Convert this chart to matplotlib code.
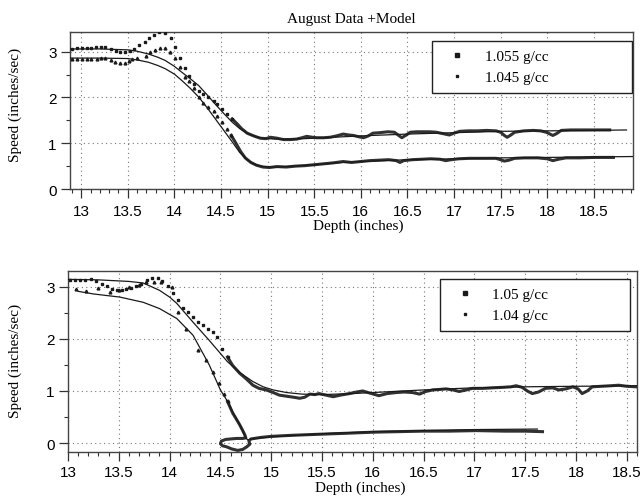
import matplotlib
matplotlib.use('Agg')
from matplotlib import pyplot as plt
from matplotlib.ticker import MultipleLocator

# ---- top panel: August data + model ----
# 1.055 g/cc, sparse points before the drop
topA_x = [12.90, 12.95, 13.01, 13.06, 13.11, 13.16, 13.21, 13.26, 13.32, 13.37, 13.42, 13.47, 13.52, 13.57, 13.62, 13.68, 13.73,
          13.78, 13.84, 13.90, 13.96, 14.01, 14.06, 14.11, 14.16, 14.21, 14.26, 14.31, 14.36, 14.42, 14.46, 14.51, 14.56, 14.62]
topA_y = [3.05, 3.07, 3.08, 3.08, 3.09, 3.10, 3.11, 3.11, 3.06, 3.02, 3.00, 3.00, 3.02, 3.06, 3.14, 3.21, 3.29,
          3.37, 3.43, 3.40, 3.29, 3.10, 2.86, 2.64, 2.46, 2.30, 2.15, 2.07, 2.01, 1.93, 1.86, 1.75, 1.64, 1.53]
# 1.055 g/cc, dense part
topA_dx = [14.62, 14.67, 14.72, 14.78, 14.85, 14.92, 14.98, 15.03, 15.10, 15.17, 15.24, 15.31, 15.37, 15.42, 15.48, 15.53, 15.60,
           15.67, 15.74, 15.81, 15.87, 15.92, 15.98, 16.03, 16.08, 16.13, 16.20, 16.29, 16.36, 16.40, 16.44, 16.48, 16.53, 16.60,
           16.68, 16.74, 16.81, 16.88, 16.95, 17.00, 17.06, 17.15, 17.25, 17.35, 17.45, 17.50, 17.54, 17.57, 17.61, 17.65, 17.75,
           17.85, 17.93, 17.99, 18.03, 18.06, 18.10, 18.15, 18.25, 18.35, 18.45, 18.55, 18.67]
topA_dy = [1.53, 1.43, 1.32, 1.22, 1.16, 1.11, 1.10, 1.13, 1.11, 1.08, 1.08, 1.09, 1.12, 1.15, 1.13, 1.12, 1.12,
           1.13, 1.16, 1.20, 1.18, 1.17, 1.14, 1.12, 1.16, 1.22, 1.23, 1.25, 1.24, 1.18, 1.12, 1.17, 1.24, 1.25,
           1.25, 1.25, 1.24, 1.21, 1.18, 1.22, 1.26, 1.27, 1.27, 1.28, 1.27, 1.24, 1.17, 1.13, 1.18, 1.24, 1.27,
           1.28, 1.27, 1.24, 1.20, 1.17, 1.21, 1.28, 1.29, 1.29, 1.29, 1.29, 1.29]
# 1.045 g/cc
topB_x = [12.90, 12.95, 13.01, 13.06, 13.11, 13.17, 13.21, 13.26, 13.32, 13.36, 13.42, 13.47, 13.51, 13.54, 13.60, 13.69, 13.74,
          13.79, 13.85, 13.90, 13.95, 14.01, 14.06, 14.11, 14.16, 14.21, 14.26, 14.31, 14.36, 14.42, 14.46, 14.51, 14.56, 14.61]
topB_y = [2.83, 2.83, 2.83, 2.83, 2.83, 2.84, 2.86, 2.86, 2.81, 2.77, 2.75, 2.75, 2.79, 2.83, 2.86, 2.90, 2.99,
          3.03, 3.08, 3.08, 2.99, 2.86, 2.66, 2.44, 2.37, 2.20, 2.01, 1.88, 1.79, 1.71, 1.59, 1.46, 1.31, 1.17]
topB_dx = [14.61, 14.66, 14.71, 14.76, 14.82, 14.88, 14.95, 15.02, 15.10, 15.20, 15.30, 15.40, 15.50, 15.60, 15.70, 15.81,
           15.90, 16.00, 16.10, 16.20, 16.30, 16.38, 16.42, 16.46, 16.55, 16.65, 16.75, 16.85, 16.91, 16.97, 17.05, 17.16,
           17.30, 17.45, 17.50, 17.54, 17.59, 17.65, 17.75, 17.90, 18.00, 18.06, 18.12, 18.20, 18.35, 18.50, 18.71]
topB_dy = [1.17, 1.00, 0.82, 0.68, 0.58, 0.52, 0.48, 0.47, 0.49, 0.48, 0.50, 0.51, 0.53, 0.55, 0.57, 0.60,
           0.58, 0.60, 0.62, 0.63, 0.64, 0.62, 0.58, 0.62, 0.64, 0.65, 0.66, 0.65, 0.62, 0.64, 0.66, 0.67,
           0.67, 0.67, 0.64, 0.61, 0.63, 0.67, 0.68, 0.68, 0.66, 0.62, 0.65, 0.68, 0.68, 0.69, 0.69]
# models
topMA_x = [12.88, 13.2, 13.5, 13.6, 13.72, 13.82, 13.9, 14.0, 14.08, 14.17, 14.26, 14.35, 14.44, 14.53, 14.62, 14.7, 14.8,
           14.9, 15.0, 15.1, 15.2, 15.4, 15.7, 16.0, 16.5, 17.0, 17.5, 18.0, 18.5, 18.85]
topMA_y = [3.06, 3.06, 3.04, 3.01, 2.95, 2.88, 2.81, 2.68, 2.55, 2.41, 2.26, 2.06, 1.85, 1.65, 1.46, 1.32, 1.20,
           1.13, 1.10, 1.09, 1.09, 1.10, 1.13, 1.16, 1.20, 1.23, 1.26, 1.27, 1.28, 1.29]
topMB_x = [12.88, 13.2, 13.5, 13.6, 13.72, 13.82, 13.9, 14.0, 14.08, 14.17, 14.26, 14.35, 14.44, 14.53, 14.62, 14.7, 14.78,
           14.85, 14.92, 15.0, 15.1, 15.2, 15.5, 15.8, 16.1, 16.5, 17.0, 17.5, 18.0, 18.5, 18.95]
topMB_y = [2.86, 2.86, 2.85, 2.82, 2.77, 2.70, 2.63, 2.51, 2.37, 2.20, 2.01, 1.78, 1.53, 1.28, 1.03, 0.80, 0.64,
           0.55, 0.50, 0.48, 0.48, 0.49, 0.53, 0.58, 0.61, 0.64, 0.66, 0.68, 0.69, 0.70, 0.71]

# ---- bottom panel ----
botA_x = [13.02, 13.07, 13.12, 13.17, 13.23, 13.28, 13.33, 13.38, 13.43, 13.48, 13.53, 13.57, 13.62, 13.67, 13.72, 13.78,
          13.83, 13.89, 13.93, 13.98, 14.03, 14.08, 14.13, 14.18, 14.23, 14.28, 14.33, 14.38, 14.43, 14.47, 14.52, 14.57]
botA_y = [3.12, 3.12, 3.12, 3.12, 3.14, 3.10, 3.05, 3.01, 2.96, 2.93, 2.93, 2.96, 2.98, 3.02, 3.05, 3.12,
          3.16, 3.16, 3.10, 3.02, 2.88, 2.74, 2.60, 2.51, 2.42, 2.32, 2.26, 2.19, 2.13, 2.04, 1.81, 1.65]
botA_dx = [14.57, 14.62, 14.69, 14.75, 14.82, 14.88, 14.95, 15.02, 15.08, 15.15, 15.22, 15.28, 15.33, 15.38, 15.43, 15.47,
           15.54, 15.61, 15.68, 15.77, 15.84, 15.90, 15.97, 16.06, 16.14, 16.23, 16.31, 16.39, 16.46, 16.52, 16.59, 16.66,
           16.72, 16.79, 16.85, 16.92, 16.98, 17.08, 17.18, 17.28, 17.36, 17.41, 17.47, 17.52, 17.57, 17.63, 17.70, 17.77,
           17.83, 17.90, 17.97, 18.02, 18.06, 18.11, 18.16, 18.25, 18.34, 18.42, 18.50, 18.59]
botA_dy = [1.65, 1.49, 1.34, 1.24, 1.11, 1.05, 1.02, 0.97, 0.92, 0.90, 0.88, 0.86, 0.88, 0.94, 0.93, 0.95,
           0.92, 0.89, 0.92, 0.95, 0.98, 1.00, 0.96, 0.91, 0.95, 0.97, 0.98, 0.97, 0.94, 0.99, 1.02, 1.03,
           1.04, 1.02, 0.99, 1.02, 1.05, 1.05, 1.06, 1.07, 1.08, 1.10, 1.07, 1.00, 0.95, 0.98, 1.05, 1.06,
           1.02, 1.04, 1.08, 1.04, 0.95, 1.00, 1.08, 1.09, 1.10, 1.11, 1.09, 1.08]
botB_x = [13.08, 13.18, 13.30, 13.41, 13.50, 13.60, 13.70, 13.77, 13.85, 13.92, 14.02, 14.08, 14.16, 14.28, 14.36, 14.43,
          14.49, 14.54, 14.57]
botB_y = [2.96, 2.92, 2.97, 2.90, 2.94, 3.00, 3.04, 3.09, 3.08, 3.09, 2.99, 2.52, 2.19, 1.78, 1.60, 1.37,
          1.15, 0.95, 0.80]
botB_dx = [14.57, 14.62, 14.66, 14.69, 14.72, 14.74, 14.75, 14.72, 14.66, 14.60, 14.55, 14.51, 14.50, 14.52, 14.56, 14.61,
           14.67, 14.72, 14.76, 14.79, 14.78, 14.80, 14.90, 15.00, 15.20, 15.47, 15.75, 16.00, 16.25, 16.49, 16.75, 17.02,
           17.30, 17.50, 17.67]
botB_dy = [0.80, 0.58, 0.45, 0.35, 0.24, 0.16, 0.10, 0.09, 0.09, 0.08, 0.07, 0.04, -0.01, -0.05, -0.07, -0.11,
           -0.14, -0.12, -0.07, -0.02, 0.04, 0.08, 0.11, 0.13, 0.15, 0.17, 0.19, 0.21, 0.22, 0.23, 0.23, 0.24,
           0.23, 0.23, 0.22]
botMA_x = [13.0, 13.3, 13.6, 13.74, 13.9, 14.0, 14.07, 14.23, 14.39, 14.57, 14.7, 14.82, 14.92, 15.02, 15.15, 15.3, 15.5,
           15.8, 16.2, 16.6, 17.0, 17.5, 18.0, 18.6]
botMA_y = [3.14, 3.13, 3.10, 3.07, 2.93, 2.80, 2.68, 2.32, 1.97, 1.56, 1.34, 1.18, 1.08, 1.02, 0.97, 0.94, 0.93,
           0.95, 0.99, 1.03, 1.06, 1.08, 1.09, 1.10]
botMB_x = [13.10, 13.25, 13.51, 13.74, 13.90, 14.07, 14.23, 14.39, 14.50, 14.57, 14.62, 14.69, 14.75, 14.77, 14.80, 14.85,
           15.0, 15.5, 16.0, 16.5, 17.0, 17.62]
botMB_y = [2.91, 2.86, 2.80, 2.70, 2.58, 2.39, 2.07, 1.50, 1.02, 0.80, 0.60, 0.36, 0.10, 0.06, 0.08, 0.09,
           0.12, 0.18, 0.22, 0.24, 0.26, 0.27]

serif = ['Liberation Serif', 'DejaVu Serif']
sans = ['Liberation Sans', 'DejaVu Sans']
ink = '#1a1a1a'

fig = plt.figure(figsize=(6.42, 5.02), dpi=100)
ax1 = fig.add_axes([70 / 642, 1 - 190 / 502, 563 / 642, 157 / 502])
ax2 = fig.add_axes([68 / 642, 1 - 453 / 502, 569 / 642, 181 / 502])


def styleAxes(ax, xlim, ylim, xpad):
    ax.set_xlim(*xlim)
    ax.set_ylim(*ylim)
    ax.xaxis.set_major_locator(MultipleLocator(0.5))
    ax.xaxis.set_minor_locator(MultipleLocator(0.1))
    ax.yaxis.set_major_locator(MultipleLocator(1))
    ax.yaxis.set_minor_locator(MultipleLocator(0.5))
    ax.xaxis.set_major_formatter(plt.FuncFormatter(lambda v, p: ('%g' % v)))
    ax.tick_params(which='major', direction='out', length=6.5, width=0.9, color='#333', labelsize=11, pad=3)
    ax.tick_params(axis='x', which='major', pad=xpad)
    ax.tick_params(which='minor', direction='out', length=3.2, width=0.8, color='#333')
    for lab in ax.get_xticklabels() + ax.get_yticklabels():
        lab.set_family(sans)
    ax.grid(True, which='major', linestyle=(0, (1, 3)), color='#777', linewidth=0.8)
    for sp in ax.spines.values():
        sp.set_color('#444')
        sp.set_linewidth(1.0)


def drawPanel(ax, sa, sb, da, db, ma, mb, labels):
    ax.plot(ma[0], ma[1], color=ink, lw=0.9, zorder=3)
    ax.plot(mb[0], mb[1], color=ink, lw=0.9, zorder=3)
    ax.plot(da[0], da[1], color=ink, lw=2.2, alpha=0.9, zorder=2)
    ax.plot(db[0], db[1], color=ink, lw=2.2, alpha=0.9, zorder=2)
    ha, = ax.plot(sa[0], sa[1], ls='none', marker='s', ms=2.0, color=ink, label=labels[0], zorder=4)
    hb, = ax.plot(sb[0], sb[1], ls='none', marker='^', ms=2.0, color=ink, label=labels[1], zorder=4)
    return ha, hb


styleAxes(ax1, (12.88, 18.92), (0, 3.43), 4.5)
styleAxes(ax2, (13.0, 18.6), (-0.17, 3.3), 3.0)

h1 = drawPanel(ax1, (topA_x, topA_y), (topB_x, topB_y), (topA_dx, topA_dy), (topB_dx, topB_dy),
               (topMA_x, topMA_y), (topMB_x, topMB_y), ['1.055 g/cc', '1.045 g/cc'])
h2 = drawPanel(ax2, (botA_x, botA_y), (botB_x, botB_y), (botA_dx, botA_dy), (botB_dx, botB_dy),
               (botMA_x, botMA_y), (botMB_x, botMB_y), ['1.05 g/cc', '1.04 g/cc'])

legendKw = dict(loc='upper left', mode='expand', prop={'family': serif, 'size': 11}, frameon=True, fancybox=False,
                edgecolor='#222', framealpha=1, numpoints=1, handlelength=2.2, handletextpad=0.7,
                labelspacing=0.5, borderpad=0.55, borderaxespad=0)
lg1 = ax1.legend(handles=h1, bbox_to_anchor=(0.643, 0.586, 0.355, 0.357), **legendKw)
lg2 = ax2.legend(handles=h2, bbox_to_anchor=(0.653, 0.646, 0.334, 0.31), **legendKw)
for lg in (lg1, lg2):
    lg.get_frame().set_linewidth(1.0)
    lg.legend_handles[0].set_markersize(3.0)
    lg.legend_handles[1].set_markersize(1.8)
    lg.legend_handles[1].set_marker('s')

ax1.set_title('August Data +Model', family=serif, fontsize=11, pad=7)
for ax, xc, yb, ylx, yly in ((ax1, 0.512, -0.19, -0.085, 0.54), (ax2, 0.513, -0.158, -0.081, 0.51)):
    ax.set_xlabel('Depth (inches)', family=serif, fontsize=11)
    ax.set_ylabel('Speed (inches/sec)', family=serif, fontsize=11)
    ax.xaxis.set_label_coords(xc, yb)
    ax.yaxis.set_label_coords(ylx, yly)

fig.savefig('out.png', dpi=100)
